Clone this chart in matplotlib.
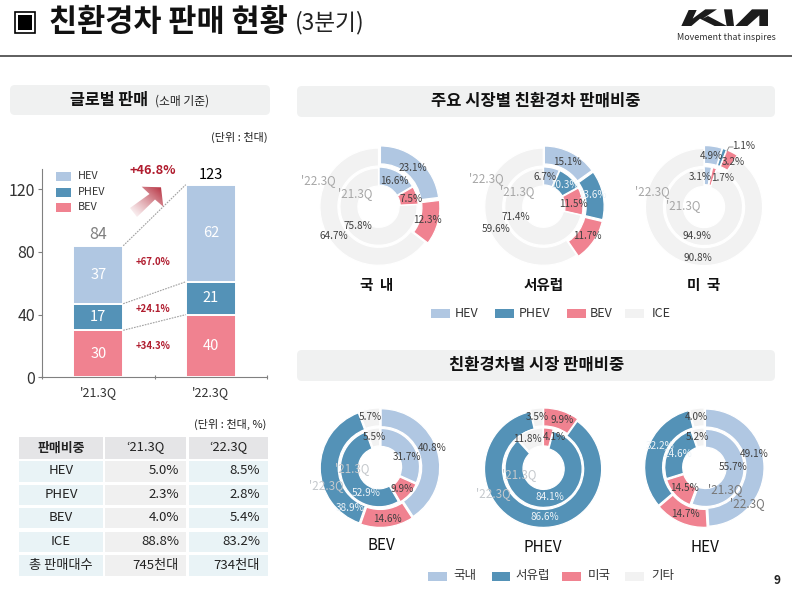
import numpy as np
import matplotlib
matplotlib.use("Agg")
import matplotlib.pyplot as plt
from matplotlib.patches import FancyBboxPatch, Rectangle, Polygon

plt.rcParams['font.family'] = ['Noto Sans CJK KR', 'DejaVu Sans']

# bar chart data
quarters = ["'21.3Q", "'22.3Q"]
bev_sales = [30, 40]
phev_sales = [17, 21]
hev_sales = [37, 62]
bar_totals = [84, 123]
yticks = [0, 40, 80, 120]

# table data
table_header = ["판매비중", "‘21.3Q", "‘22.3Q"]
table_names = ["HEV", "PHEV", "BEV", "ICE", "총 판매대수"]
table_21 = ["5.0%", "2.3%", "4.0%", "88.8%", "745천대"]
table_22 = ["8.5%", "2.8%", "5.4%", "83.2%", "734천대"]

# market share donuts, clockwise from 12 o'clock, HEV/PHEV/BEV/ICE
korea_21 = [16.6, 7.5, 75.8]
korea_22 = [23.1, 12.3, 64.7]
europe_21 = [6.7, 10.3, 11.5, 71.4]
europe_22 = [15.1, 13.6, 11.7, 59.6]
us_21 = [3.1, 0.3, 1.7, 94.9]
us_22 = [4.9, 1.1, 3.2, 90.8]

# type donuts, clockwise from 12 o'clock
bev_21 = [31.7, 9.9, 52.9, 5.5]
bev_22 = [40.8, 14.6, 38.9, 5.7]
phev_21 = [4.1, 84.1, 11.8]
phev_22 = [9.9, 86.6, 3.5]
hev_21 = [55.7, 14.5, 24.6, 5.2]
hev_22 = [49.1, 14.7, 32.2, 4.0]

C_HEV = '#b0c7e2'
C_PHEV = '#5492b7'
C_BEV = '#f08290'
C_ICE = '#f2f2f2'
DARK = '#404040'
LIGHT = '#eef4f8'
GREY = '#a6a6a6'
RED = '#b01c2e'

W, H = 792, 593
fig = plt.figure(figsize=(W / 100, H / 100), dpi=100, facecolor='white')

# overlay in pixel coordinates for boxes and text
ov = fig.add_axes([0, 0, 1, 1], zorder=5)
ov.set_xlim(0, W)
ov.set_ylim(H, 0)
ov.axis('off')
ov.patch.set_alpha(0)


def t(x, y, s, size=7.2, color=DARK, ha='center', weight='normal', zorder=6):
    ov.text(x, y, s, fontsize=size, color=color, ha=ha, va='center',
            fontweight=weight, zorder=zorder)


def box(x0, y0, x1, y1):
    ov.add_patch(FancyBboxPatch((x0, y0), x1 - x0, y1 - y0, facecolor='#f0f1f1', edgecolor='none',
                                boxstyle='round,pad=0,rounding_size=5'))


# header
ov.add_patch(Rectangle((15, 12), 20, 21, facecolor='white', edgecolor='black', lw=1.2))
ov.add_patch(Rectangle((18, 15), 14, 15, facecolor='black', edgecolor='none'))
t(49, 22, "친환경차 판매 현황", 22, '#111111', 'left', 'bold')
t(295, 23, "(3분기)", 16.3, '#222222', 'left')
ov.plot([0, W], [56, 56], color='#333333', lw=1.1)

# kia logo, traced in a 3x crop starting at (672, 2)
logo_polys = [
    [(28, 72), (50, 24), (74, 24), (62, 50), (100, 22), (135, 22), (92, 50), (108, 42), (165, 72), (128, 72),
     (84, 50), (58, 72)],
    [(156, 22), (180, 22), (186, 72), (164, 72)],
    [(190, 72), (240, 22), (288, 22), (288, 72), (262, 72), (262, 40), (226, 72)],
]
for pts in logo_polys:
    ov.add_patch(Polygon([(672 + px / 3, 2 + py / 3) for px, py in pts], closed=True,
                         facecolor='#1c1c1c', edgecolor='none'))
t(726, 38, "Movement that inspires", 6.4, '#333333')

# section headers
box(10, 85, 270, 115)
box(297, 86, 775, 117)
box(297, 350, 775, 381)
t(109, 100, "글로벌 판매", 11.7, '#111111', 'center', 'bold')
t(182, 101, "(소매 기준)", 8.5, '#222222')
t(536, 101, "주요 시장별 친환경차 판매비중", 11.9, '#111111', 'center', 'bold')
t(537, 365, "친환경차별 시장 판매비중", 11.9, '#111111', 'center', 'bold')
t(268, 137, "(단위 : 천대)", 8, '#222222', 'right')
t(266, 424, "(단위 : 천대, %)", 8, '#222222', 'right')

# stacked bars
ax = fig.add_axes([42 / W, 1 - 377.3 / H, 225 / W, 208 / H])
x = np.arange(len(quarters))
bw = 0.444
bottom = np.zeros(2)
for vals, col in [(bev_sales, C_BEV), (phev_sales, C_PHEV), (hev_sales, C_HEV)]:
    ax.bar(x, vals, bw, bottom=bottom, color=col, edgecolor='white', lw=1.4)
    for i, v in enumerate(vals):
        ax.text(x[i], bottom[i] + v / 2, str(v), color='white', fontsize=10.5, ha='center', va='center')
    # dotted connectors between the two bars
    top = bottom + np.array(vals)
    ax.plot([bw / 2, 1 - bw / 2], top, color='#a0a0a0', lw=0.8, ls=(0, (1.5, 1)))
    bottom = top
ax.text(0, bar_totals[0] + 2, str(bar_totals[0]), ha='center', va='bottom', fontsize=11.5, color='#7f7f7f')
ax.text(1, bar_totals[1] + 1.5, str(bar_totals[1]), ha='center', va='bottom', fontsize=10.5, color='black',
        fontweight='medium')
ax.set_xlim(-0.5, 1.5)
ax.set_ylim(0, 132.8)
ax.set_yticks(yticks)
ax.set_xticks([-0.5, 0.5, 1.5], labels=[])
ax.set_xticks(x, labels=quarters, minor=True)
ax.tick_params(axis='x', which='major', length=3, direction='inout', color='#808080')
ax.tick_params(axis='x', which='minor', length=0, labelsize=9, pad=6, labelcolor='#333333')
ax.tick_params(axis='y', length=3, labelsize=11.5, color='#808080', labelcolor='#333333', pad=2)
ax.patch.set_alpha(0)
for s in ['top', 'right']:
    ax.spines[s].set_visible(False)
for s in ['left', 'bottom']:
    ax.spines[s].set_color('#808080')

# bar legend
for y, col, name in [(176, C_HEV, "HEV"), (192, C_PHEV, "PHEV"), (207, C_BEV, "BEV")]:
    ov.add_patch(Rectangle((56, y - 4.5), 15, 9, facecolor=col, edgecolor='none'))
    t(78, y, name, 7.8, '#333333', 'left')

# growth labels
t(153, 171, "+46.8%", 9.2, RED, 'center', 'bold')
t(153, 261.6, "+67.0%", 6.9, RED, 'center', 'bold')
t(153, 309.5, "+24.1%", 6.9, RED, 'center', 'bold')
t(153, 346, "+34.3%", 6.9, RED, 'center', 'bold')

# gradient arrow
arrow_pts = [(130, 208), (149.5, 194), (141.7, 186.7), (161, 187.3), (163.3, 206.7), (155, 199.5), (137, 217)]
arrow = Polygon(arrow_pts, closed=True, facecolor='none', edgecolor='none')
ov.add_patch(arrow)
gx, gy = np.meshgrid(np.linspace(0, 1, 60), np.linspace(0, 1, 60))
ramp = np.clip((gx + (1 - gy)) / 2, 0, 1)
grad = np.zeros((60, 60, 4))
grad[..., 0], grad[..., 1], grad[..., 2] = 0.69, 0.11, 0.18
grad[..., 3] = ramp ** 1.3
im = ov.imshow(grad, extent=(128, 165, 218, 185), aspect='auto', zorder=4, origin='upper')
im.set_clip_path(arrow)
ov.set_xlim(0, W)
ov.set_ylim(H, 0)

# table
col_x = [(19, 103), (105, 186), (189, 268)]
row_y = [(437, 459), (461, 482), (485, 505), (508, 528), (531.5, 552), (555, 576)]
for c, (x0, x1) in enumerate(col_x):
    ov.add_patch(Rectangle((x0, row_y[0][0]), x1 - x0, row_y[0][1] - row_y[0][0], facecolor='#e5e5e7', edgecolor='none'))
    t((x0 + x1) / 2, sum(row_y[0]) / 2 - 0.5, table_header[c], 9.3, '#222222', 'center', 'bold' if c == 0 else 'normal')
for r in range(5):
    y0, y1 = row_y[r + 1]
    ym = (y0 + y1) / 2 - 0.5
    for c, (x0, x1) in enumerate(col_x):
        fc = '#f0f0f0' if c == 1 else '#e9f3f6'
        ov.add_patch(Rectangle((x0, y0), x1 - x0, y1 - y0, facecolor=fc, edgecolor='none'))
    t(sum(col_x[0]) / 2, ym, table_names[r], 9.5, '#222222')
    t(col_x[1][1] - 7, ym, table_21[r], 9.5, '#222222', 'right')
    t(col_x[2][1] - 8, ym, table_22[r], 9.5, '#222222', 'right')


def donut(cx, cy, outer, inner, colors_out, colors_in, exp_out, exp_in, R=58):
    scale = 1.2
    d = fig.add_axes([(cx - R * scale) / W, 1 - (cy + R * scale) / H, 2 * R * scale / W, 2 * R * scale / H])
    wp = dict(edgecolor='white', linewidth=0.9)
    d.pie(outer, colors=colors_out, radius=1.01, startangle=90, counterclock=False, normalize=True,
          explode=exp_out, wedgeprops=dict(width=0.31, **wp))
    d.pie(inner, colors=colors_in, radius=0.665, startangle=90, counterclock=False, normalize=True,
          explode=exp_in, wedgeprops=dict(width=0.31, **wp))
    d.set_xlim(-scale, scale)
    d.set_ylim(-scale, scale)


MK3 = [C_HEV, C_BEV, C_ICE]
MK4 = [C_HEV, C_PHEV, C_BEV, C_ICE]
donut(378.5, 206.7, korea_22, korea_21, MK3, MK3, [0.05, 0.05, 0], [0.02, 0.02, 0])
donut(543.3, 206.7, europe_22, europe_21, MK4, MK4, [0.04, 0.04, 0.04, 0], [0.02, 0.02, 0.02, 0])
donut(704, 207, us_22, us_21, MK4, MK4, [0.05, 0.05, 0.05, 0], [0.03, 0.03, 0.03, 0])

TY4 = [C_HEV, C_BEV, C_PHEV, C_ICE]
TY3 = [C_BEV, C_PHEV, C_ICE]
donut(380, 467.7, bev_22, bev_21, TY4, TY4, [0.02] * 4, [0.02] * 4)
donut(543.3, 467.7, phev_22, phev_21, TY3, TY3, [0.02] * 3, [0.02] * 3)
donut(704.3, 467.7, hev_22, hev_21, TY4, TY4, [0.02] * 4, [0.02] * 4)

# donut labels: x, y, text, colour
market_labels = [
    (412.7, 168.3, "23.1%", DARK), (394, 180.7, "16.6%", DARK), (410.7, 199, "7.5%", DARK),
    (427.7, 220, "12.3%", DARK), (358.3, 225.7, "75.8%", DARK), (334, 236, "64.7%", DARK),
    (567.7, 161.7, "15.1%", DARK), (545, 177.3, "6.7%", DARK), (564.3, 185, "10.3%", LIGHT),
    (592.3, 195, "13.6%", LIGHT), (573.3, 204, "11.5%", DARK), (587.3, 236, "11.7%", DARK),
    (516, 217.3, "71.4%", DARK), (496, 229.3, "59.6%", DARK),
    (711, 156, "4.9%", DARK), (744, 146, "1.1%", DARK), (733.3, 161.7, "3.2%", DARK),
    (700.7, 177.3, "3.1%", DARK), (722.7, 178.3, "1.7%", DARK), (697, 235.7, "94.9%", DARK),
    (697.7, 258.3, "90.8%", DARK),
    (431.7, 447.7, "40.8%", DARK), (406.7, 457.3, "31.7%", DARK), (402.3, 489.3, "9.9%", DARK),
    (387.3, 518.7, "14.6%", DARK), (366, 493.3, "52.9%", LIGHT), (350, 508.3, "38.9%", LIGHT),
    (370.3, 417.3, "5.7%", DARK), (374.3, 437.3, "5.5%", DARK),
    (561.7, 420, "9.9%", DARK), (554.5, 436.7, "4.1%", DARK), (537.7, 416.7, "3.5%", DARK),
    (527.5, 439, "11.8%", DARK), (550, 496.7, "84.1%", LIGHT), (545, 517.3, "86.6%", LIGHT),
    (754.3, 454.3, "49.1%", DARK), (733.3, 467.3, "55.7%", DARK), (685, 488.3, "14.5%", DARK),
    (685, 514, "14.7%", DARK), (660, 445.7, "32.2%", LIGHT), (678.3, 454.3, "24.6%", LIGHT),
    (696.7, 417.3, "4.0%", DARK), (697.7, 437.3, "5.2%", DARK),
]
for lx, ly, s, col in market_labels:
    t(lx, ly, s, 7.2, col)

quarter_labels = [
    (318.3, 181, "'22.3Q", GREY), (355, 194, "'21.3Q", GREY),
    (486, 178.3, "'22.3Q", GREY), (516.7, 191.7, "'21.3Q", GREY),
    (652.7, 192, "'22.3Q", GREY), (682.7, 205.7, "'21.3Q", GREY),
    (352.3, 468.3, "'21.3Q", '#c4c8cc'), (326.7, 486, "'22.3Q", '#c4c8cc'),
    (519, 475, "'21.3Q", '#c4c8cc'), (493.3, 494, "'22.3Q", '#c4c8cc'),
    (725, 489.3, "'21.3Q", '#777777'), (747.7, 503.3, "'22.3Q", '#777777'),
]
for lx, ly, s, col in quarter_labels:
    t(lx, ly, s, 8.4, col)

ov.plot([727, 729, 733], [151, 147, 147], color='#808080', lw=0.6)

# donut names
for lx, ly, s in [(376.7, 285, "국  내"), (543.3, 285, "서유럽"), (703.7, 285, "미  국")]:
    t(lx, ly, s, 10.5, '#111111', 'center', 'bold')
for lx, ly, s in [(381, 546, "BEV"), (542.3, 547.5, "PHEV"), (705, 547.5, "HEV")]:
    t(lx, ly, s, 11, '#111111')

# donut legends
for sx, tx, col, name in [(431, 455, C_HEV, "HEV"), (495, 519, C_PHEV, "PHEV"),
                          (566.7, 590, C_BEV, "BEV"), (625, 652, C_ICE, "ICE")]:
    ov.add_patch(Rectangle((sx, 309), 19, 9, facecolor=col, edgecolor='none'))
    t(tx, 313.3, name, 9, '#333333', 'left')
for sx, tx, col, name in [(428.3, 453, C_HEV, "국내"), (491.7, 515, C_PHEV, "서유럽"),
                          (562.3, 587.7, C_BEV, "미국"), (625, 651.7, C_ICE, "기타")]:
    ov.add_patch(Rectangle((sx, 572), 18.7, 8.7, facecolor=col, edgecolor='none'))
    t(tx, 576, name, 9, '#333333', 'left')

t(777.5, 581, "9", 8.5, '#222222', 'center', 'bold')

fig.savefig("out.png", dpi=100)
